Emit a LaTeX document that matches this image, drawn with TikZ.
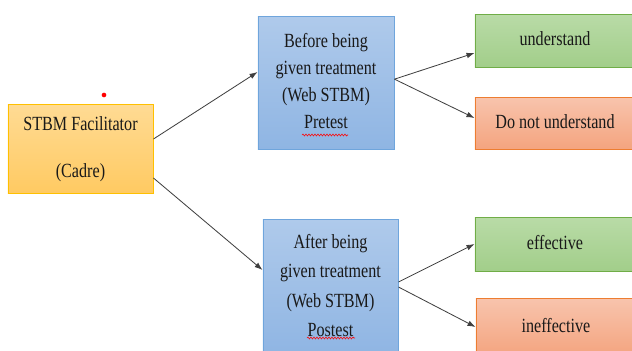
\documentclass[tikz,border=0pt]{standalone}
\usepackage{fontspec}
\setmainfont{Liberation Serif}
\usepackage{graphicx}
\usepackage{tikz}
\usetikzlibrary{positioning}
\usetikzlibrary{arrows.meta}
\usetikzlibrary{decorations.pathmorphing}

\definecolor{facTop}{HTML}{FFDB94}
\definecolor{facBot}{HTML}{FFCA62}
\definecolor{facLine}{HTML}{FFC000}
\definecolor{blueTop}{HTML}{AFCAEB}
\definecolor{blueBot}{HTML}{8FB5E3}
\definecolor{blueLine}{HTML}{6FA5DC}
\definecolor{greenTop}{HTML}{B9DBA7}
\definecolor{greenBot}{HTML}{A2CE8A}
\definecolor{greenLine}{HTML}{70AD47}
\definecolor{redTop}{HTML}{F8C4AD}
\definecolor{redBot}{HTML}{F4A47F}
\definecolor{redLine}{HTML}{ED7D31}
\definecolor{arrowGray}{HTML}{3F3F3F}

% text is drawn a bit taller than wide, as in the scan
\newcommand{\tallText}[1]{\scalebox{1.02}[1.27]{\begin{tabular}{@{}c@{}}#1\end{tabular}}}

\begin{document}
\begin{tikzpicture}[x=0.03cm, y=-0.03cm,
    boxbase/.style={draw, line width=0.8pt, inner sep=0pt,
        font=\fontsize{13.5}{18}\selectfont, text=black!90},
    facbox/.style={boxbase, top color=facTop, bottom color=facBot, draw=facLine},
    testbox/.style={boxbase, top color=blueTop, bottom color=blueBot, draw=blueLine},
    goodbox/.style={boxbase, top color=greenTop, bottom color=greenBot, draw=greenLine},
    badbox/.style={boxbase, top color=redTop, bottom color=redBot, draw=redLine},
    link/.style={-{Latex[length=0.24cm, width=0.17cm]}, draw=arrowGray, line width=0.7pt},
    spell/.style={red, line width=0.5pt, decorate,
        decoration={snake, segment length=0.09cm, amplitude=0.03cm}}]

    % page size of the scan
    \clip (0,0) rectangle (632,350);
    \fill[white] (0,0) rectangle (632,350);

    % --- LEFT ---
    \node[facbox, minimum width=4.35cm, minimum height=2.67cm] (fac) at (80.5,148.5)
        {\tallText{STBM Facilitator\\[13.4pt](Cadre)}};
    \fill[red] (104,95) circle (0.07cm); % stray mark

    % --- MIDDLE ---
    \node[testbox, minimum width=4.08cm, minimum height=3.99cm] (pre) at (326,82.5)
        {\tallText{Before being\\given treatment\\(Web STBM)\\Pretest}};
    \node[testbox, minimum width=4.05cm, minimum height=4.08cm] (post) at (330.5,287)
        {\tallText{After being\\[1.7pt]given treatment\\[1.7pt](Web STBM)\\[1.7pt]Postest}};

    % spell-check underlines
    \draw[spell] (302,135) -- (348,135);
    \draw[spell] (307,338) -- (355,338);

    % --- RIGHT ---
    \node[goodbox, minimum width=4.8cm, minimum height=1.59cm] (und) at (555,40.5)
        {\tallText{understand}};
    \node[badbox, minimum width=4.8cm, minimum height=1.56cm] (dnu) at (555,123)
        {\tallText{Do not understand}};
    \node[goodbox, minimum width=4.8cm, minimum height=1.62cm] (eff) at (555,244)
        {\tallText{effective}};
    \node[badbox, minimum width=4.8cm, minimum height=1.74cm] (ineff) at (556,327)
        {\tallText{ineffective}};

    % --- ARROWS ---
    \draw[link] ([yshift=0.285cm]fac.east) -- ([yshift=0.315cm]pre.west);
    \draw[link] ([yshift=-0.885cm]fac.east) -- ([yshift=0.51cm]post.west);
    \draw[link] ([yshift=0.1cm]pre.east) -- ([yshift=-0.375cm]und.west);
    \draw[link] ([yshift=0.1cm]pre.east) -- ([yshift=0.15cm]dnu.west);
    \draw[link] ([yshift=0.15cm]post.east) -- (eff.west);
    \draw[link] (post.east) -- (ineff.west);

\end{tikzpicture}
\end{document}
